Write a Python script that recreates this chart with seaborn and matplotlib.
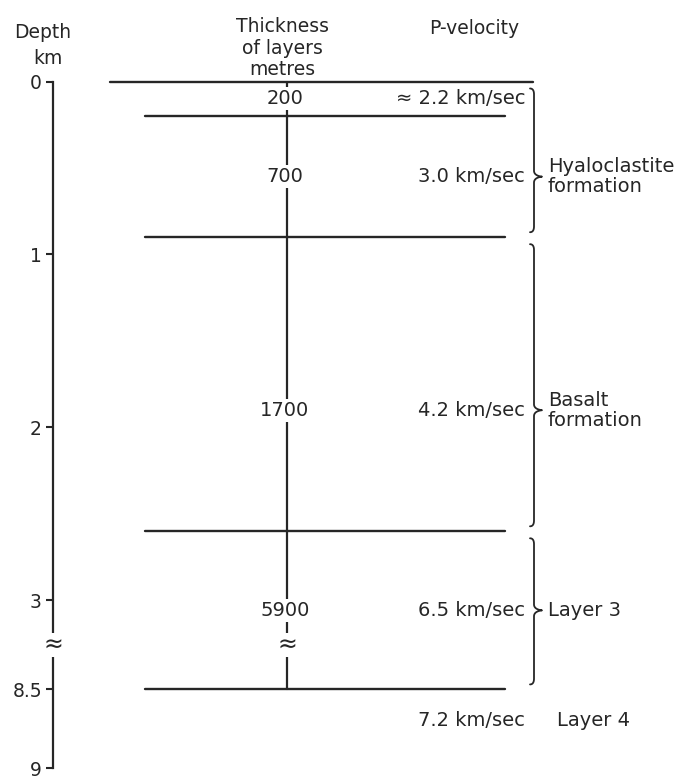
import numpy as np
import pandas as pd
import matplotlib
matplotlib.use("Agg")
import matplotlib.pyplot as plt
import seaborn as sns

# ---- crustal section data -------------------------------------------------
layer_thickness_m = [200, 700, 1700, 5900]          # metres
layer_velocity = [2.2, 3.0, 4.2, 6.5]               # km/sec
basement_velocity = 7.2                              # km/sec
basement_name = "Layer 4"
depth_ticks = [0, 1, 2, 3, 8.5, 9]
depth_tick_labels = ["0", "1", "2", "3", "8.5", "9"]
group_names = ["Hyaloclastite\nformation", "Basalt\nformation", "Layer 3"]
group_first_layer = [0, 2, 3]
group_last_layer = [1, 2, 3]

# ---- layout ----------------------------------------------------------------
W, H, DPI = 686, 781, 100
INK = "#262626"
FS = 14
BREAK_FROM, BREAK_TO = 3.0, 8.5       # depth interval squeezed on the axis
GAP_SPAN, TAIL_SLOPE = 0.514, 0.91


def squeeze(d):
    d = np.asarray(d, dtype=float)
    mid = BREAK_FROM + (d - BREAK_FROM) * GAP_SPAN / (BREAK_TO - BREAK_FROM)
    tail = BREAK_FROM + GAP_SPAN + (d - BREAK_TO) * TAIL_SLOPE
    return np.where(d <= BREAK_FROM, d, np.where(d >= BREAK_TO, tail, mid))


def unsqueeze(f):
    f = np.asarray(f, dtype=float)
    mid = BREAK_FROM + (f - BREAK_FROM) * (BREAK_TO - BREAK_FROM) / GAP_SPAN
    tail = BREAK_TO + (f - BREAK_FROM - GAP_SPAN) / TAIL_SLOPE
    return np.where(f <= BREAK_FROM, f,
                    np.where(f >= BREAK_FROM + GAP_SPAN, tail, mid))


sns.set_theme(style="white")
plt.rcParams["font.family"] = ["DejaVu Sans"]

fig = plt.figure(figsize=(W / DPI, H / DPI), dpi=DPI)
fig.patch.set_facecolor("white")
ax = fig.add_axes([0, 0, 1, 1])
ax.set_facecolor("white")
ax.set_yscale("function", functions=(squeeze, unsqueeze))
ax.set_xlim(0, W)
px_per_km = 173.0
top_f = -81.5 / px_per_km
bot_f = (H - 81.5) / px_per_km
ax.set_ylim(float(unsqueeze(bot_f)), float(unsqueeze(top_f)))

# depth axis
for s in ["top", "right", "bottom"]:
    ax.spines[s].set_visible(False)
ax.spines["left"].set_position(("data", 53))
ax.spines["left"].set_bounds(depth_ticks[0], depth_ticks[-1])
ax.spines["left"].set_color(INK)
ax.spines["left"].set_linewidth(1.6)
ax.set_xticks([])
ax.set_yticks(depth_ticks)
ax.set_yticklabels(depth_tick_labels)
ax.tick_params(axis="y", left=True, direction="out", length=5, width=1.5,
               color=INK, labelcolor=INK, labelsize=13.5, pad=3)
ax.grid(False)

# boundaries between layers
bounds = np.concatenate([[0], np.cumsum(layer_thickness_m) / 1000.0])
x_start = [110] + [145] * (len(bounds) - 1)
x_end = [533] + [505] * (len(bounds) - 1)
seg = pd.DataFrame({
    "x": np.ravel(np.column_stack([x_start, x_end])),
    "depth": np.repeat(bounds, 2),
    "boundary": np.repeat(np.arange(len(bounds)), 2),
})
sns.lineplot(data=seg, x="x", y="depth", units="boundary", estimator=None,
             color=INK, linewidth=1.7, sort=False, ax=ax, legend=False)
ax.set_xlabel("")
ax.set_ylabel("")

# central thickness line
XC = 287
ax.plot([XC, XC], [bounds[0], bounds[-1]], color=INK, lw=1.6, zorder=2)

# label rows: middle of each layer on the drawn axis
mid_f = (squeeze(bounds[:-1]) + squeeze(bounds[1:])) / 2
row = list(unsqueeze(mid_f))
row[2] = 1.9
basement_row = 8.7

white = dict(facecolor="white", edgecolor="none", pad=1.5)
for i, (t, v) in enumerate(zip(layer_thickness_m, layer_velocity)):
    ax.text(XC - 2, row[i], f"{t}", ha="center", va="center", fontsize=FS,
            color=INK, bbox=white, zorder=3)
    prefix = "≈ " if i == 0 else ""
    ax.text(525, row[i], f"{prefix}{v:.1f} km/sec", ha="right", va="center",
            fontsize=FS, color=INK)
ax.text(418, basement_row, f"{basement_velocity:.1f} km/sec", ha="left",
        va="center", fontsize=FS, color=INK)
ax.text(557, basement_row, basement_name, ha="left", va="center",
        fontsize=FS, color=INK)

# break marks
brk = (BREAK_FROM + BREAK_TO) / 2
for xb in (53, XC):
    ax.text(xb, brk, "≈", ha="center", va="center", fontsize=17, color=INK,
            bbox=dict(facecolor="white", edgecolor="none", pad=0.2), zorder=4)


# braces grouping layers into formations
def brace(top_d, bot_d, tip_d, xv=534, w=8, hook=4, r=6, n=20):
    fig.canvas.draw()
    to_disp = ax.transData.transform
    xv_d = to_disp([[xv, 0]])[0][0]
    scale = fig.dpi / DPI
    T = to_disp([[xv, top_d]])[0][1] - 7 * scale
    B = to_disp([[xv, bot_d]])[0][1] + 5 * scale
    M = to_disp([[xv, tip_d]])[0][1]
    w, hook, r = w * scale, hook * scale, r * scale
    t = np.linspace(0, 1, n)[:, None]

    def q(p0, c, p1):
        p0, c, p1 = map(np.asarray, (p0, c, p1))
        return (1 - t) ** 2 * p0 + 2 * (1 - t) * t * c + t ** 2 * p1

    pts = np.vstack([
        q((xv_d - hook, T), (xv_d, T), (xv_d, T - r)),
        q((xv_d, M + r), (xv_d, M + 1), (xv_d + w, M)),
        q((xv_d + w, M), (xv_d, M - 1), (xv_d, M - r)),
        q((xv_d, B + r), (xv_d, B), (xv_d - hook, B)),
    ])
    data = ax.transData.inverted().transform(pts)
    ax.plot(data[:, 0], data[:, 1], color=INK, lw=1.3, solid_capstyle="round")


for name, a, b in zip(group_names, group_first_layer, group_last_layer):
    tip = row[b]
    brace(bounds[a], bounds[b + 1], tip)
    ax.text(548, tip, name, ha="left", va="center", fontsize=FS, color=INK,
            linespacing=1.05)

# column headings
fig.text(43 / W, 1 - 32 / H, "Depth", ha="center", va="center",
         fontsize=13.5, color=INK)
fig.text(48 / W, 1 - 59 / H, "km", ha="center", va="center",
         fontsize=13.5, color=INK)
fig.text(282 / W, 1 - 48 / H, "Thickness\nof layers\nmetres", ha="center",
         va="center", multialignment="center", fontsize=13.5, color=INK,
         linespacing=1.15)
fig.text(474 / W, 1 - 29 / H, "P-velocity", ha="center", va="center",
         fontsize=13.5, color=INK)

fig.savefig("out.png", dpi=DPI, facecolor="white")
